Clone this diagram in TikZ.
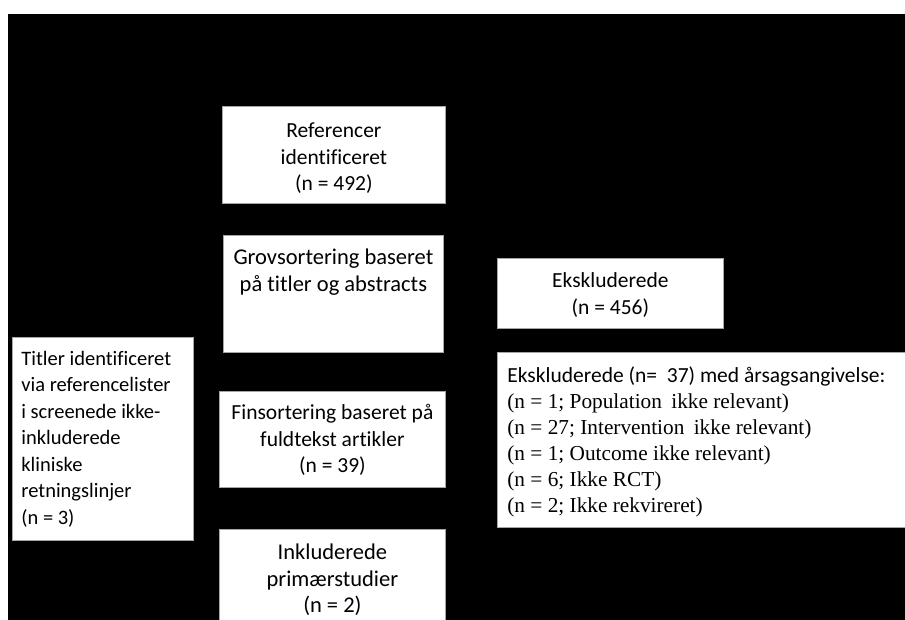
\documentclass[tikz,border=0pt]{standalone}
\usepackage{fontspec}
\setmainfont{Carlito}[Ligatures={NoCommon}]
\newfontfamily\timesf{Liberation Serif}
\newcommand\bxtxt[5]{\parbox[t][#2pt][t]{#1pt}{\vspace*{#3pt}#4\strut #5}}
\newcommand\fs[1]{\fontsize{#1}{26.5}\selectfont}
\begin{document}
\begin{tikzpicture}[x=1pt,y=-1pt]
\tikzset{
  bx/.style={draw=gray!70, line width=0.8pt, fill=white, inner sep=0pt, anchor=north west,
    font=\fs{22}},
  bg/.style={fill=black}
}
\useasboundingbox (0,0) rectangle (905,619);
\clip (0,0) rectangle (905,619);
\fill[white] (0,0) rectangle (905,619);
\fill[bg] (8,14) rectangle (906,620);

\node[bx, font=\fs{21.5}] (ref) at (222,106) {\bxtxt{223}{97}{13}{\centering}{Referencer\\identificeret\\(n = 492)}};
\node[bx, font=\fs{22.5}] (grov) at (223,235) {\bxtxt{220}{117}{11}{\centering}{Grovsortering baseret\\på titler og abstracts}};
\node[bx, font=\fs{21.5}] (eks1) at (497,258) {\bxtxt{226}{70}{11}{\centering}{Ekskluderede\\(n = 456)}};
\node[bx, font=\fs{20.5}] (titl) at (12,337) {\bxtxt{181}{203}{9.5}{\raggedright\leftskip=9pt}{Titler identificeret\\via referencelister\\i screenede ikke-\\inkluderede\\kliniske\\retningslinjer\\(n = 3)}};
\node[bx, font=\fs{21.5}] (fin) at (219,391) {\bxtxt{226}{96}{10}{\centering}{Finsortering baseret på\\fuldtekst artikler\\(n = 39)}};
\node[bx, font=\fontsize{21.5}{26}\selectfont] (eks2) at (497,352) {\bxtxt{420}{175}{11.8}{\raggedright\leftskip=10pt}{Ekskluderede (n=\ \ 37) med årsagsangivelse:\\
{\timesf\fontsize{21.3}{26}\selectfont
(n = 1; Population\hspace{4pt} ikke relevant)\\
(n = 27; Intervention\hspace{4pt} ikke relevant)\\
(n = 1; Outcome ikke relevant)\\
(n = 6; Ikke RCT)\\
(n = 2; Ikke rekvireret)}}};
\node[bx, font=\fs{22.5}] (ink) at (219,529) {\bxtxt{226}{100}{12}{\centering}{Inkluderede\\primærstudier\\(n = 2)}};
\end{tikzpicture}
\end{document}
